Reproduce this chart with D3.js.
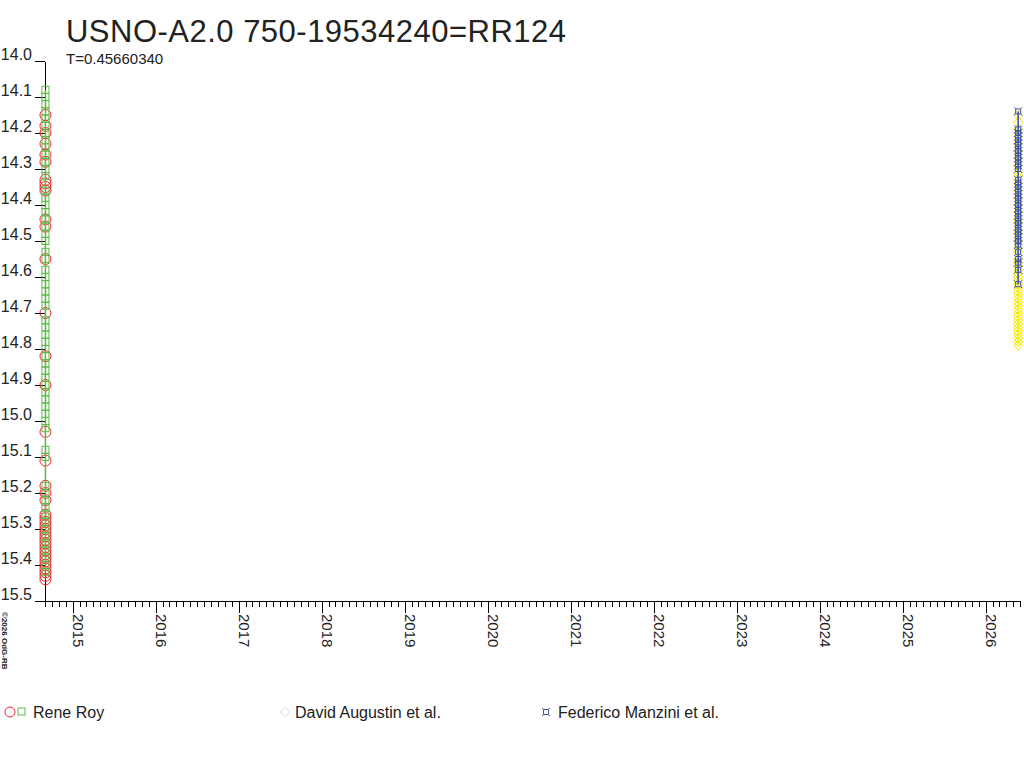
<!DOCTYPE html>
<html><head><meta charset="utf-8">
<script src="https://cdn.jsdelivr.net/npm/d3@7"></script>
<style>body{margin:0;background:#fff}svg{display:block}text{font-family:"Liberation Sans",Arial,sans-serif}</style>
</head><body><svg id="c" width="1024" height="768"></svg>
<script>
const title = "USNO-A2.0 750-19534240=RR124";
const subtitle = "T=0.45660340";
const copyright = "\u00A92026 OdG-RB";
const yTicks = [14.0,14.1,14.2,14.3,14.4,14.5,14.6,14.7,14.8,14.9,15.0,15.1,15.2,15.3,15.4,15.5];
const yearTicks = ["2015","2016","2017","2018","2019","2020","2021","2022","2023","2024","2025","2026"];
const seriesNames = ["Rene Roy","David Augustin et al.","Federico Manzini et al."];
const xStart = "2014-09-01", xEnd = "2026-06-01";

const royDate = "2014-09-03";
const royRed = [14.15,14.18,14.20,14.23,14.26,14.28,14.33,14.34,14.35,14.36,14.44,14.46,14.55,14.70,14.82,14.90,15.03,15.11,15.18,15.20,15.22,15.26,15.27,15.28,15.29,15.30,15.31,15.32,15.33,15.34,15.35,15.36,15.37,15.38,15.39,15.40,15.41,15.42,15.43,15.44];
const royGreen = [14.08,14.10,14.12,14.14,14.16,14.18,14.20,14.22,14.24,14.26,14.28,14.30,14.32,14.36,14.38,14.40,14.42,14.44,14.46,14.48,14.50,14.53,14.55,14.58,14.60,14.62,14.64,14.66,14.68,14.72,14.74,14.76,14.78,14.80,14.82,14.84,14.86,14.88,14.90,14.92,14.94,14.96,14.98,15.00,15.02,15.08,15.10,15.18,15.20,15.22,15.24,15.26,15.28,15.30,15.32,15.34,15.36,15.38,15.40,15.42];

const augustinDate = "2026-05-24";
const augustinMag = [14.15,14.17,14.19,14.21,14.23,14.25,14.27,14.29,14.31,14.32,14.34,14.36,14.38,14.40,14.42,14.44,14.45,14.47,14.48,14.50,14.52,14.53,14.55,14.56,14.57,14.58,14.59,14.60,14.61,14.62,14.63,14.64,14.65,14.66,14.67,14.68,14.69,14.70,14.71,14.72,14.73,14.74,14.75,14.76,14.77,14.78,14.79];

const manziniDate = "2026-05-24";
const manziniMag = [14.14,14.19,14.20,14.21,14.22,14.23,14.24,14.25,14.26,14.27,14.28,14.29,14.30,14.33,14.34,14.35,14.36,14.37,14.38,14.39,14.40,14.41,14.42,14.43,14.44,14.45,14.46,14.47,14.48,14.49,14.50,14.51,14.53,14.55,14.56,14.58,14.62];

const colors = {red:"#e8262c", green:"#5bb948", yellow:"#f5e600", blue:"#3b4fa6"};

const svg = d3.select("#c");
const parse = d3.timeParse("%Y-%m-%d");
const x = d3.scaleTime().domain([parse(xStart), parse(xEnd)]).range([45, 1020]);
const y = d3.scaleLinear().domain([14.0, 15.5]).range([61, 601]);

// title
svg.append("text").attr("x", 66).attr("y", 42).attr("font-size", 31).attr("fill", "#222")
  .attr("textLength", 500).attr("lengthAdjust", "spacing").text(title);
svg.append("text").attr("x", 66).attr("y", 64).attr("font-size", 15).attr("fill", "#222").text(subtitle);

// y axis
const yAx = svg.append("g").attr("transform", "translate(45,0)")
  .call(d3.axisLeft(y).tickValues(yTicks).tickSize(10).tickSizeOuter(0).tickFormat(d3.format(".1f")));
yAx.selectAll("text").attr("x", -13).attr("dy", "-1.5px").attr("font-size", 16).attr("fill", "#222")
  .style("font-family", "Liberation Sans, Arial, sans-serif");
yAx.selectAll("line,path").attr("stroke", "#000").attr("shape-rendering", "crispEdges");

// x axis minor
const xMinor = svg.append("g").attr("transform", "translate(0,601)")
  .call(d3.axisBottom(x).ticks(d3.timeMonth.every(1)).tickSize(6).tickSizeOuter(0).tickFormat(""));
xMinor.selectAll("line,path").attr("stroke", "#000").attr("shape-rendering", "crispEdges");
const yearDates = yearTicks.map(s => parse(s + "-01-01"));
const xMajor = svg.append("g").attr("transform", "translate(0,601)")
  .call(d3.axisBottom(x).tickValues(yearDates).tickSize(12).tickSizeOuter(0).tickFormat(d3.timeFormat("%Y")));
xMajor.select(".domain").remove();
xMajor.selectAll("line").attr("stroke", "#000").attr("shape-rendering", "crispEdges");
xMajor.selectAll("text").attr("transform", "translate(0,13) rotate(90)").attr("x", 0).attr("y", 0).attr("dy", 0)
  .attr("text-anchor", "start").attr("font-size", 15).attr("fill", "#222")
  .style("font-family", "Liberation Sans, Arial, sans-serif");

// copyright
svg.append("text").attr("transform", "translate(2,612) rotate(90)").attr("font-size", 8).attr("font-weight", "bold")
  .attr("fill", "#222").text(copyright);

// symbols
const starPath = "M-2.5,-2.5L2.5,-2.5L2.5,2.5L-2.5,2.5Z M-4,-4L-2.5,-2.5 M4,-4L2.5,-2.5 M4,4L2.5,2.5 M-4,4L-2.5,2.5";
const diamondPath = "M0,-5L4.5,0L0,5L-4.5,0Z";
const line = d3.line().x(d => x(d.date)).y(d => y(d.mag));
function mk(date, arr) { return arr.map(m => ({date: parse(date), mag: m})); }

const royR = mk(royDate, royRed), royG = mk(royDate, royGreen);
const aug = mk(augustinDate, augustinMag), man = mk(manziniDate, manziniMag);
const plot = svg.append("g");

plot.append("path").datum(royR).attr("d", line).attr("stroke", colors.red).attr("fill", "none");
plot.selectAll(".rr").data(royR).enter().append("circle").attr("cx", d => x(d.date)).attr("cy", d => y(d.mag))
  .attr("r", 5.5).attr("fill", "none").attr("stroke", colors.red);
plot.selectAll(".rg").data(royG).enter().append("rect").attr("x", d => x(d.date) - 3.5).attr("y", d => y(d.mag) - 3.5)
  .attr("width", 7).attr("height", 7).attr("fill", "none").attr("stroke", colors.green);
plot.append("path").datum(royG).attr("d", line).attr("stroke", colors.green).attr("stroke-width", 1.5).attr("fill", "none");

plot.append("path").datum(aug).attr("d", line).attr("stroke", colors.yellow).attr("fill", "none");
plot.selectAll(".ay").data(aug).enter().append("path").attr("d", diamondPath)
  .attr("transform", d => `translate(${x(d.date)},${y(d.mag)})`).attr("fill", "none").attr("stroke", colors.yellow);
plot.selectAll(".mb").data(man).enter().append("path").attr("d", starPath)
  .attr("transform", d => `translate(${x(d.date)},${y(d.mag)})`).attr("fill", "none").attr("stroke", colors.blue);
plot.append("path").datum(man).attr("d", line).attr("stroke", colors.blue).attr("stroke-width", 1.5).attr("fill", "none");

// legend
const lg = svg.append("g");
lg.append("circle").attr("cx", 10).attr("cy", 712).attr("r", 5).attr("fill", "none").attr("stroke", colors.red);
lg.append("rect").attr("x", 18).attr("y", 708).attr("width", 7).attr("height", 7).attr("fill", "none").attr("stroke", colors.green);
lg.append("text").attr("x", 33).attr("y", 718).attr("font-size", 16).attr("fill", "#222").text(seriesNames[0]);
lg.append("path").attr("d", diamondPath).attr("transform", "translate(285,712)").attr("fill", "none").attr("stroke", "#ddd");
lg.append("text").attr("x", 295).attr("y", 718).attr("font-size", 16).attr("fill", "#222").text(seriesNames[1]);
lg.append("path").attr("d", starPath).attr("transform", "translate(546,712)").attr("fill", "none").attr("stroke", colors.blue);
lg.append("text").attr("x", 558).attr("y", 718).attr("font-size", 16).attr("fill", "#222").text(seriesNames[2]);
</script></body></html>
